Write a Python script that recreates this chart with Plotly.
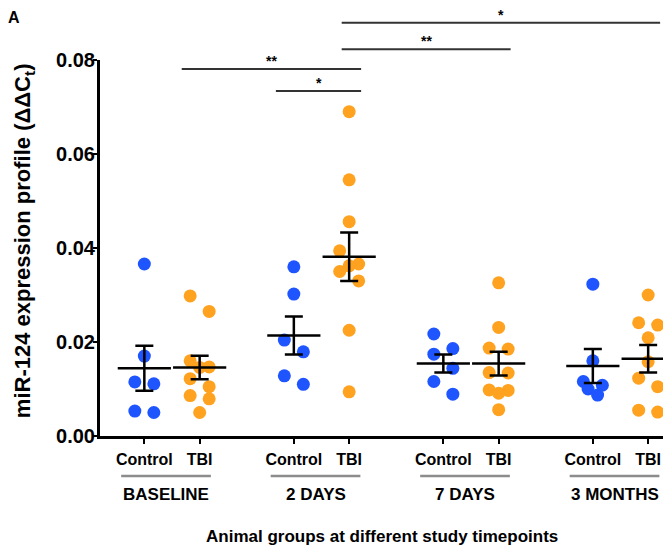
import numpy as np
import plotly.graph_objects as go

# ---------------- data ----------------
timepoints = ["BASELINE", "2 DAYS", "7 DAYS", "3 MONTHS"]
group_names = ["Control", "TBI"]

baseline_control = [0.0366, 0.0170, 0.0115, 0.0111, 0.0053, 0.0050]
baseline_tbi = [0.0298, 0.0265, 0.0160, 0.0147, 0.0146, 0.0122, 0.0105, 0.0086, 0.0079, 0.0050]
day2_control = [0.0360, 0.0302, 0.0204, 0.0179, 0.0128, 0.0110]
day2_tbi = [0.0690, 0.0545, 0.0456, 0.0394, 0.0366, 0.0362, 0.0350, 0.0330, 0.0225, 0.0094]
day7_control = [0.0217, 0.0186, 0.0174, 0.0144, 0.0116, 0.0089]
day7_tbi = [0.0326, 0.0231, 0.0187, 0.0185, 0.0135, 0.0134, 0.0098, 0.0097, 0.0091, 0.0056]
month3_control = [0.0323, 0.0160, 0.0116, 0.0108, 0.0100, 0.0087]
month3_tbi = [0.0300, 0.0241, 0.0236, 0.0209, 0.0158, 0.0123, 0.0105, 0.0055, 0.0051]

control_series = [baseline_control, day2_control, day7_control, month3_control]
tbi_series = [baseline_tbi, day2_tbi, day7_tbi, month3_tbi]

y_ticks = [0.00, 0.02, 0.04, 0.06, 0.08]
y_tick_labels = ["0.00", "0.02", "0.04", "0.06", "0.08"]

# significance brackets: (from timepoint, from group, to timepoint, to group, height, label)
brackets = [
    (0, 1, 1, 1, 0.0781, "**"),
    (1, 0, 1, 1, 0.0734, "*"),
    (1, 1, 2, 1, 0.0823, "**"),
    (1, 1, 3, 1, 0.0879, "*"),
]

# ---------------- styling ----------------
FONT = "Liberation Sans, Arial, sans-serif"
BLUE = "#1f55ff"
ORANGE = "#ffa21f"
BODY = 8  # default page margin of the html body
W, H = 671 - BODY, 551 - BODY
ML, MR, MT, MB = 100 - BODY, 5, 60 - BODY, 115
PX_PER_UNIT = 149.5
X_LEFT = -0.4816
X_RIGHT = X_LEFT + (W - ML - MR) / PX_PER_UNIT
Y_MAX = 0.08
PAIR_OFF = 0.185
SLOT = 9.5 / PX_PER_UNIT


def pos(t, g):
    return t + (PAIR_OFF if g == 1 else -PAIR_OFF)


SLOT_PATTERNS = {1: [0], 2: [-1, 1], 3: [-1, 1, 0], 4: [-1, 1, -0.5, 0.5],
                 5: [0, 1, -1, 0.5, -0.5]}


def swarm(vals, thresh=0.0035):
    order = sorted(range(len(vals)), key=lambda i: -vals[i])
    groups, cur = [], []
    for i in order:
        if cur and vals[cur[0]] - vals[i] > thresh:
            groups.append(cur)
            cur = []
        cur.append(i)
    groups.append(cur)
    offs = [0.0] * len(vals)
    for g in groups:
        pat = SLOT_PATTERNS.get(len(g), SLOT_PATTERNS[5])
        for k, i in enumerate(g):
            offs[i] = pat[k % len(pat)] * SLOT
    return offs


fig = go.Figure()

for gi, (series, color) in enumerate([(control_series, BLUE), (tbi_series, ORANGE)]):
    for t, vals in enumerate(series):
        offs = swarm(vals)
        fig.add_trace(go.Scatter(
            x=[pos(t, gi) + o for o in offs], y=vals, mode="markers",
            marker=dict(color=color, size=13, line=dict(width=0)),
            showlegend=False, hoverinfo="y"))

# mean +/- SEM
mx, my, me = [], [], []
for gi, series in enumerate([control_series, tbi_series]):
    for t, vals in enumerate(series):
        a = np.array(vals)
        mx.append(pos(t, gi))
        my.append(a.mean())
        me.append(a.std(ddof=1) / np.sqrt(len(a)))
fig.add_trace(go.Scatter(
    x=mx, y=my, mode="markers",
    marker=dict(symbol="line-ew", size=38, color="black", line=dict(width=2.5, color="black")),
    error_y=dict(type="data", array=me, visible=True, color="black", thickness=2.5, width=9),
    showlegend=False, hoverinfo="skip"))

shapes = []
annotations = []

# brackets
for (t1, g1, t2, g2, h, lab) in brackets:
    x0 = pos(t1, g1) - 0.12
    x1 = pos(t2, g2) + 0.08
    if t1 != t2 and g1 == g2 and t1 > 0:
        x0 = pos(t1, g1) - 0.05
    yp = h / Y_MAX
    shapes.append(dict(type="line", xref="x", yref="paper", x0=x0, x1=x1, y0=yp, y1=yp,
                       line=dict(color="#333333", width=2)))
    annotations.append(dict(x=(x0 + x1) / 2, y=yp, xref="x", yref="paper", text=lab,
                            showarrow=False, yanchor="bottom", yshift=-2,
                            font=dict(family=FONT, size=14, color="black", weight="bold")))

# timepoint underlines and labels
for t, name in enumerate(timepoints):
    c = t - 0.04
    shapes.append(dict(type="line", xref="x", yref="paper", x0=c - 0.3, x1=c + 0.3,
                       y0=-0.1064, y1=-0.1064, line=dict(color="#8c8c8c", width=2.5)))
    annotations.append(dict(x=c, y=-0.1543, xref="x", yref="paper", text=name,
                            showarrow=False, yanchor="middle",
                            font=dict(family=FONT, size=17, color="black", weight="bold")))

annotations.append(dict(x=0.498, y=-0.2686, xref="paper", yref="paper",
                        text="Animal groups at different study timepoints", showarrow=False,
                        yanchor="middle",
                        font=dict(family=FONT, size=17, color="black", weight="bold")))
annotations.append(dict(x=-0.134, y=0.5186, xref="paper", yref="paper",
                        text="miR-124 expression profile (ΔΔC<sub>t</sub>)", showarrow=False,
                        textangle=-90, xanchor="center", yanchor="middle",
                        font=dict(family=FONT, size=22, color="black", weight="bold")))
annotations.append(dict(x=-0.152, y=1.112, xref="paper", yref="paper", text="A",
                        showarrow=False, xanchor="center", yanchor="middle",
                        font=dict(family=FONT, size=16, color="black", weight="bold")))

xtickvals, xticktext = [], []
for t in range(len(timepoints)):
    for gi, gname in enumerate(group_names):
        xtickvals.append(pos(t, gi))
        xticktext.append(gname)

fig.update_layout(
    width=W, height=H,
    margin=dict(l=ML, r=MR, t=MT, b=MB, pad=0),
    plot_bgcolor="white", paper_bgcolor="white",
    shapes=shapes, annotations=annotations,
    xaxis=dict(range=[X_LEFT, X_RIGHT], tickvals=xtickvals, ticktext=xticktext,
               showgrid=False, zeroline=False, showline=True, linecolor="black", linewidth=3,
               ticks="outside", ticklen=5, tickwidth=2, tickcolor="black",
               ticklabelstandoff=2,
               tickfont=dict(family=FONT, size=16, color="black", weight="bold")),
    yaxis=dict(range=[0, Y_MAX], tickvals=y_ticks, ticktext=y_tick_labels,
               showgrid=False, zeroline=False, showline=True, linecolor="black", linewidth=3,
               ticks="outside", ticklen=4, tickwidth=2, tickcolor="black",
               ticklabelstandoff=-6,
               tickfont=dict(family=FONT, size=20, color="black", weight="bold")),
)

fig.write_html("out.html")
